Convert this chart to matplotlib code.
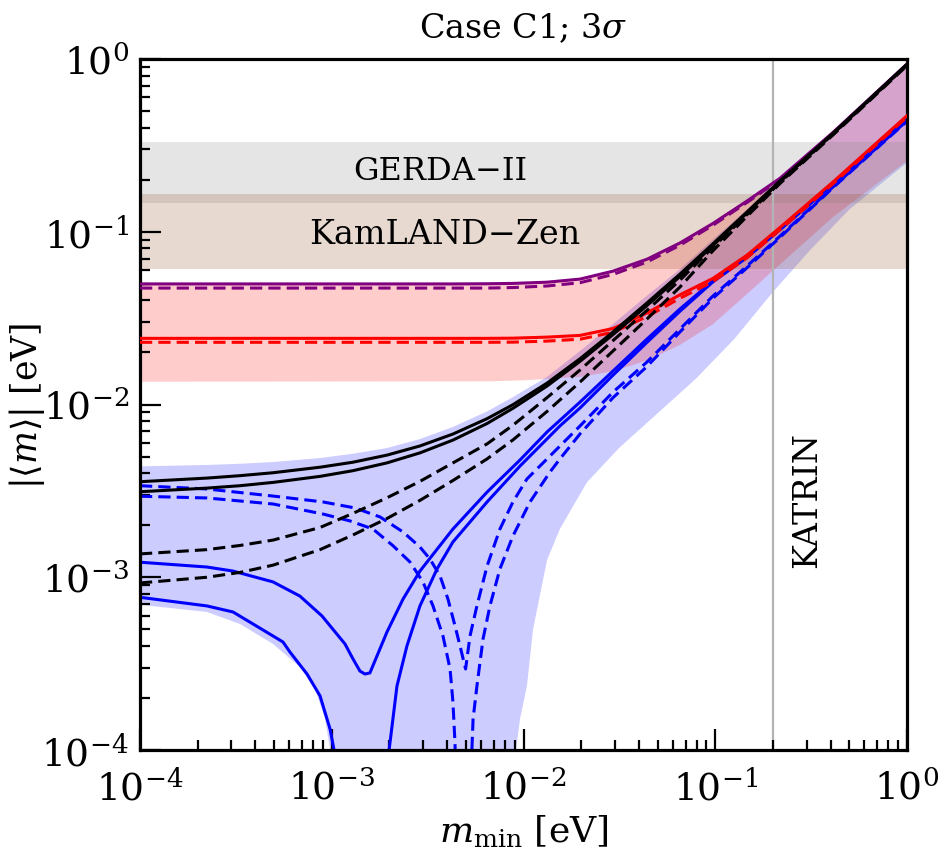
import numpy as np
import matplotlib
matplotlib.use("Agg")
import matplotlib.pyplot as plt

plt.rcParams['font.family'] = ['DejaVu Serif']
plt.rcParams['mathtext.fontset'] = 'dejavuserif'

# ---------------- data ----------------
# common m_min grid for the smooth "upper" family of curves
m_grid = [1e-4, 2.234e-4, 3.327e-4, 4.94e-4, 8.69e-4, 1.291e-3, 1.941e-3, 2.884e-3,
          4.285e-3, 6.457e-3, 8.81e-3, 1.327e-2, 1.972e-2, 2.931e-2, 4.406e-2,
          6.546e-2, 9.727e-2, 0.1466, 0.2178, 0.4111, 1.0]

black_solid_1 = [3.573e-3, 3.750e-3, 3.873e-3, 4.027e-3, 4.335e-3, 4.634e-3, 5.093e-3, 5.754e-3,
                 6.745e-3, 8.279e-3, 9.977e-3, 1.330e-2, 1.841e-2, 2.630e-2, 3.873e-2,
                 5.689e-2, 8.511e-2, 0.1303, 0.1972, 0.3715, 0.9333]
black_solid_2 = [3.126e-3, 3.281e-3, 3.388e-3, 3.540e-3, 3.837e-3, 4.140e-3, 4.592e-3, 5.248e-3,
                 6.223e-3, 7.762e-3, 9.506e-3, 1.279e-2, 1.778e-2, 2.541e-2, 3.741e-2,
                 5.508e-2, 8.318e-2, 0.1288, 0.1950, 0.3690, 0.9268]
black_dash_1 = [1.365e-3, 1.445e-3, 1.528e-3, 1.641e-3, 1.941e-3, 2.344e-3, 2.884e-3, 3.589e-3,
                4.592e-3, 5.916e-3, 7.586e-3, 1.096e-2, 1.585e-2, 2.344e-2, 3.508e-2,
                5.248e-2, 8.128e-2, 0.1259, 0.1928, 0.3673, 0.9226]
black_dash_2 = [9.268e-4, 1.0e-3, 1.067e-3, 1.175e-3, 1.445e-3, 1.758e-3, 2.188e-3, 2.786e-3,
                3.631e-3, 4.842e-3, 6.237e-3, 9.120e-3, 1.349e-2, 2.042e-2, 3.126e-2,
                4.786e-2, 7.762e-2, 0.1230, 0.1905, 0.3631, 0.9162]
purple_solid = [4.989e-2, 4.989e-2, 4.989e-2, 4.989e-2, 4.989e-2, 4.989e-2, 4.989e-2, 4.989e-2,
                4.989e-2, 5.0e-2, 5.023e-2, 5.105e-2, 5.321e-2, 5.916e-2, 6.934e-2,
                8.610e-2, 0.1117, 0.1507, 0.2042, 0.3758, 0.9354]
purple_dash = [4.721e-2, 4.721e-2, 4.721e-2, 4.721e-2, 4.721e-2, 4.721e-2, 4.721e-2, 4.721e-2,
               4.721e-2, 4.721e-2, 4.753e-2, 4.853e-2, 5.070e-2, 5.662e-2, 6.683e-2,
               8.356e-2, 0.1091, 0.1479, 0.2009, 0.3715, 0.9268]
red_solid = [2.415e-2, 2.415e-2, 2.415e-2, 2.415e-2, 2.415e-2, 2.415e-2, 2.415e-2, 2.415e-2,
             2.415e-2, 2.415e-2, 2.421e-2, 2.455e-2, 2.512e-2, 2.754e-2, 3.388e-2,
             4.315e-2, 5.370e-2, 7.328e-2, 0.1059, 0.1941, 0.4699]
red_dash = [2.291e-2, 2.291e-2, 2.291e-2, 2.291e-2, 2.291e-2, 2.291e-2, 2.291e-2, 2.291e-2,
            2.291e-2, 2.291e-2, 2.296e-2, 2.328e-2, 2.388e-2, 2.618e-2, 3.228e-2,
            4.121e-2, 5.152e-2, 7.079e-2, 0.1028, 0.1897, 0.4613]
no_band_upper = [4.385e-3, 4.467e-3, 4.539e-3, 4.645e-3, 4.898e-3, 5.188e-3, 5.598e-3, 6.310e-3,
                 7.413e-3, 9.120e-3, 1.104e-2, 1.445e-2, 2.042e-2, 2.924e-2, 4.266e-2,
                 6.081e-2, 9.016e-2, 0.1349, 0.2042, 0.3802, 0.9550]

# NO band lower edge (values below the axis mark the hole down to zero)
no_low_m = [1e-4, 2.234e-4, 3.327e-4, 4.94e-4, 6.823e-4, 8.185e-4, 9.226e-4, 9.795e-4, 1.002e-3,
            8.913e-3, 9.141e-3, 9.594e-3, 1.042e-2, 1.122e-2, 1.327e-2, 1.549e-2, 2.143e-2,
            3.162e-2, 5.012e-2, 7.943e-2, 0.1259, 0.1995, 0.3162, 0.5012, 1.0]
no_low = [6.934e-4, 6.295e-4, 5.358e-4, 4.111e-4, 3.020e-4, 2.254e-4, 1.510e-4, 1.014e-4, 1e-5,
          1e-5, 1e-4, 1.514e-4, 2.344e-4, 5.012e-4, 1.259e-3, 1.905e-3, 3.548e-3,
          5.623e-3, 8.913e-3, 1.413e-2, 2.399e-2, 4.467e-2, 7.943e-2, 0.1349, 0.2512]

# IO band lower edge
io_low_m = [1e-4, 6.457e-3, 1e-2, 1.972e-2, 2.931e-2, 4.406e-2, 6.546e-2, 9.727e-2, 0.1466,
            0.1977, 0.4111, 1.0]
io_low = [1.355e-2, 1.361e-2, 1.380e-2, 1.445e-2, 1.556e-2, 1.799e-2, 2.213e-2, 2.917e-2,
          4.365e-2, 5.888e-2, 0.1216, 0.2570]

# blue solid curves
blue_solid_1_m = [1e-4, 2.234e-4, 3.055e-4, 4.94e-4, 6.823e-4, 8.892e-4, 1.172e-3, 1.291e-3,
                  1.403e-3, 1.489e-3, 1.581e-3, 1.941e-3, 2.355e-3, 2.884e-3, 4.285e-3,
                  6.457e-3, 9.594e-3, 1.327e-2, 1.972e-2, 2.931e-2, 4.406e-2, 6.546e-2,
                  9.727e-2, 0.1466, 0.2178, 0.4111, 1.0]
blue_solid_1 = [1.222e-3, 1.146e-3, 1.086e-3, 9.397e-4, 7.780e-4, 5.970e-4, 4.111e-4, 3.365e-4,
                2.864e-4, 2.754e-4, 2.793e-4, 4.819e-4, 7.482e-4, 1.086e-3, 1.901e-3,
                3.112e-3, 4.775e-3, 6.934e-3, 1.033e-2, 1.563e-2, 2.393e-2, 3.573e-2,
                5.188e-2, 7.161e-2, 0.1035, 0.1897, 0.4592]
blue_solid_2_m = [1e-4, 2.234e-4, 3.055e-4, 4.94e-4, 5.572e-4, 6.053e-4, 7.430e-4, 8.690e-4,
                  9.795e-4, 1.028e-3, 1.047e-3, 1.919e-3, 1.991e-3, 2.188e-3, 2.466e-3,
                  2.884e-3, 3.540e-3, 4.285e-3, 6.457e-3, 9.594e-3, 1.549e-2, 1.972e-2,
                  2.931e-2, 4.406e-2, 6.546e-2, 9.727e-2, 0.1466, 0.2178, 0.4111, 1.0]
blue_solid_2 = [7.656e-4, 6.823e-4, 6.295e-4, 4.571e-4, 4.217e-4, 3.690e-4, 2.754e-4, 2.056e-4,
                1.324e-4, 1.0e-4, 3.0e-5, 3.0e-5, 1.0e-4, 2.344e-4, 3.999e-4,
                6.823e-4, 1.117e-3, 1.600e-3, 2.729e-3, 4.406e-3, 7.516e-3, 9.550e-3,
                1.479e-2, 2.291e-2, 3.467e-2, 5.129e-2, 7.112e-2, 0.1028, 0.1888, 0.4571]

# blue dashed curves
blue_dash_1_m = [1e-4, 2.234e-4, 4.94e-4, 8.995e-4, 1.321e-3, 1.786e-3, 2.355e-3, 2.884e-3,
                 3.251e-3, 3.673e-3, 4.036e-3, 4.395e-3, 4.667e-3, 4.989e-3, 5.260e-3,
                 5.715e-3, 6.457e-3, 7.534e-3, 8.810e-3, 1.042e-2, 1.327e-2, 1.972e-2,
                 2.931e-2, 4.406e-2, 6.546e-2, 9.727e-2, 0.1466, 0.2178, 0.4111, 1.0]
blue_dash_1 = [3.388e-3, 3.243e-3, 2.951e-3, 2.729e-3, 2.518e-3, 2.234e-3, 1.828e-3, 1.496e-3,
               1.276e-3, 1.016e-3, 7.482e-4, 5.224e-4, 3.999e-4, 2.944e-4, 4.571e-4,
               6.823e-4, 1.161e-3, 1.901e-3, 2.729e-3, 3.707e-3, 4.842e-3, 7.516e-3,
               1.180e-2, 1.762e-2, 2.735e-2, 4.246e-2, 6.339e-2, 9.441e-2, 0.1816, 0.4395]
blue_dash_2_m = [1e-4, 2.234e-4, 4.94e-4, 8.995e-4, 1.245e-3, 1.641e-3, 2.084e-3, 2.559e-3,
                 2.992e-3, 3.373e-3, 3.802e-3, 4.140e-3, 4.285e-3, 4.395e-3, 4.467e-3,
                 5.297e-3, 5.383e-3, 5.458e-3, 5.715e-3, 6.152e-3, 6.683e-3, 7.534e-3,
                 8.810e-3, 1.081e-2, 1.374e-2, 1.549e-2, 1.972e-2, 2.931e-2, 4.406e-2,
                 6.546e-2, 9.727e-2, 0.1466, 0.2178, 0.4111, 1.0]
blue_dash_2 = [2.944e-3, 2.877e-3, 2.655e-3, 2.323e-3, 2.118e-3, 1.901e-3, 1.524e-3, 1.225e-3,
               9.376e-4, 6.823e-4, 4.571e-4, 2.944e-4, 1.897e-4, 1.084e-4, 3.0e-5,
               3.0e-5, 1.014e-4, 1.510e-4, 2.344e-4, 4.395e-4, 6.823e-4, 1.117e-3,
               1.734e-3, 2.729e-3, 4.064e-3, 4.842e-3, 6.761e-3, 1.096e-2, 1.660e-2,
               2.630e-2, 4.121e-2, 6.194e-2, 9.290e-2, 0.1799, 0.4365]

# experimental bounds
gerda_range = [0.147, 0.33]
kamland_range = [0.061, 0.165]
katrin_m = 0.2

# ---------------- figure ----------------
fig = plt.figure(figsize=(9.38, 8.53), dpi=100)
ax = fig.add_axes([140/938, 102/853, 767/938, 691/853])
ax.set_xscale('log')
ax.set_yscale('log')

# bands
ax.fill(np.concatenate([m_grid, no_low_m[::-1]]),
        np.concatenate([no_band_upper, no_low[::-1]]),
        color='blue', alpha=0.2, lw=0, zorder=1)
ax.fill(np.concatenate([m_grid, io_low_m[::-1]]),
        np.concatenate([purple_solid, io_low[::-1]]),
        color='red', alpha=0.2, lw=0, zorder=1)
ax.axhspan(*gerda_range, color='gray', alpha=0.2, lw=0, zorder=1)
ax.axhspan(*kamland_range, color='saddlebrown', alpha=0.2, lw=0, zorder=1)
ax.axvline(katrin_m, color='#b4b4b4', lw=1.6, zorder=1.5)

lw = 2.2
dash = (4.0, 2.0)
ax.plot(blue_solid_1_m, blue_solid_1, color='blue', lw=lw, zorder=2)
ax.plot(blue_solid_2_m, blue_solid_2, color='blue', lw=lw, zorder=2)
ax.plot(blue_dash_1_m, blue_dash_1, color='blue', lw=lw, dashes=dash, zorder=2)
ax.plot(blue_dash_2_m, blue_dash_2, color='blue', lw=lw, dashes=dash, zorder=2)
ax.plot(m_grid, red_solid, color='red', lw=lw, zorder=3)
ax.plot(m_grid, red_dash, color='red', lw=lw, dashes=dash, zorder=3)
ax.plot(m_grid, purple_solid, color='purple', lw=lw, zorder=3)
ax.plot(m_grid, purple_dash, color='purple', lw=lw, dashes=dash, zorder=3)
ax.plot(m_grid, black_solid_1, color='black', lw=lw, zorder=4)
ax.plot(m_grid, black_solid_2, color='black', lw=lw, zorder=4)
ax.plot(m_grid, black_dash_1, color='black', lw=lw, dashes=dash, zorder=4)
ax.plot(m_grid, black_dash_2, color='black', lw=lw, dashes=dash, zorder=4)

ax.set_xlim(1e-4, 1)
ax.set_ylim(1e-4, 1)

# texts
ax.text(3.67e-3, 0.225, 'GERDA\u2212II', fontsize=23, ha='center', va='center', zorder=5)
ax.text(3.9e-3, 0.097, 'KamLAND\u2212Zen', fontsize=24, ha='center', va='center', zorder=5)
ax.text(0.30, 2.84e-3, 'KATRIN', fontsize=24, rotation=90, ha='center', va='center', zorder=5)
ax.set_title(r'Case C1; 3$\sigma$', fontsize=24, pad=16)
ax.set_xlabel(r'$m_{\rm min}$ [eV]', fontsize=26, labelpad=4)
ax.set_ylabel(r'$|\langle m\rangle|$ [eV]', fontsize=25)
ax.yaxis.set_label_coords(-0.121, 0.5)

for s in ax.spines.values():
    s.set_linewidth(2.3)
ax.tick_params(which='both', direction='in', top=False, right=False, labelsize=27)
ax.tick_params(axis='x', which='major', pad=14)
ax.tick_params(axis='y', which='major', pad=8)
ax.tick_params(which='major', length=15, width=1.6)
ax.tick_params(which='minor', length=7.5, width=1.6)

fig.savefig('out.png', dpi=100)
